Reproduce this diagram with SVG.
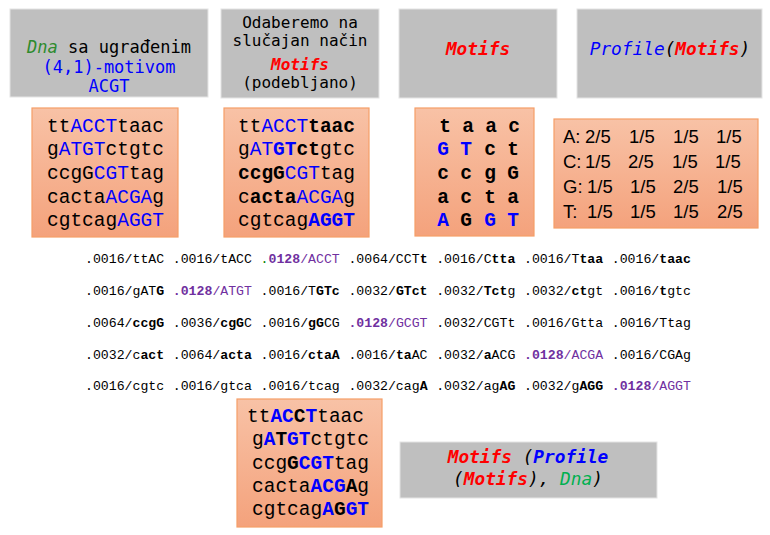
<svg xmlns="http://www.w3.org/2000/svg" width="770" height="535" viewBox="0 0 770 535">
<defs>
<linearGradient id="og" x1="0" y1="0" x2="0" y2="1">
<stop offset="0" stop-color="#f8c2a6"/>
<stop offset="1" stop-color="#f4a27c"/>
</linearGradient>
<style>
.gray{fill:#bfbfbf;stroke:#e4e4e4;stroke-width:1}
.org{fill:url(#og);stroke:#f59e68;stroke-width:1.2}
.cons{font-family:"DejaVu Sans Mono","Liberation Mono",monospace;fill:#000}
.mono{font-family:"Liberation Mono","Courier New",monospace;font-size:19.5px;fill:#000}
.sm{font-family:"Liberation Mono","Courier New",monospace;font-size:13.2px;fill:#000}
.pf{font-family:"Liberation Sans",Arial,sans-serif;font-size:18.5px;fill:#000}
.b{font-weight:bold}
.i{font-style:italic}
.bl{fill:#0000ff}
.rd{fill:#ff0000}
.gr{fill:#2e8b2e}
.gr2{fill:#00b050}
.pu{fill:#7030a0}
.k{fill:#000}
</style>
</defs>
<rect width="770" height="535" fill="#ffffff"/>

<g id="box-dna">
<rect class="gray" x="10" y="9" width="198" height="88"/>
<text class="cons" font-size="17" x="109" y="53" text-anchor="middle"><tspan class="i gr">Dna</tspan> sa ugrađenim</text>
<text class="cons bl" font-size="17" x="109" y="72.5" text-anchor="middle">(4,1)-motivom</text>
<text class="cons bl" font-size="17" x="109" y="92" text-anchor="middle">ACGT</text>
</g>

<g id="box-choose">
<rect class="gray" x="221" y="9" width="158" height="89"/>
<text class="cons" font-size="16" x="300" y="27.5" text-anchor="middle">Odaberemo na</text>
<text class="cons" font-size="16" x="300" y="46" text-anchor="middle">slučajan način</text>
<text class="cons b i rd" font-size="16" x="300" y="70" text-anchor="middle">Motifs</text>
<text class="cons" font-size="16" x="300" y="88" text-anchor="middle">(podebljano)</text>
</g>

<g id="box-motifs-title">
<rect class="gray" x="399" y="9" width="158" height="89"/>
<text class="cons b i rd" font-size="17.8" x="478" y="55" text-anchor="middle">Motifs</text>
</g>

<g id="box-profile-title">
<rect class="gray" x="577" y="9" width="185" height="89"/>
<text class="cons" font-size="17.8" x="670" y="55" text-anchor="middle"><tspan class="i bl">Profile</tspan><tspan class="i">(</tspan><tspan class="b i rd">Motifs</tspan><tspan class="i">)</tspan></text>
</g>

<g id="seq-dna">
<rect class="org" x="32" y="108" width="146" height="129"/>
<text class="mono" x="47" y="131.5">tt<tspan class="bl">ACCT</tspan>taac</text>
<text class="mono" x="47" y="155.2">g<tspan class="bl">ATGT</tspan>ctgtc</text>
<text class="mono" x="47" y="178.9">ccgG<tspan class="bl">CGT</tspan>tag</text>
<text class="mono" x="47" y="202.6">cacta<tspan class="bl">ACGA</tspan>g</text>
<text class="mono" x="47" y="226.3">cgtcag<tspan class="bl">AGGT</tspan></text>
</g>

<g id="seq-random">
<rect class="org" x="224" y="108" width="145" height="129"/>
<text class="mono" x="238" y="131.5">tt<tspan class="bl">ACCT</tspan><tspan class="b">taac</tspan></text>
<text class="mono" x="238" y="155.2">g<tspan class="bl">AT</tspan><tspan class="b bl">GT</tspan><tspan class="b">ct</tspan>gtc</text>
<text class="mono" x="238" y="178.9"><tspan class="b">ccgG</tspan><tspan class="bl">CGT</tspan>tag</text>
<text class="mono" x="238" y="202.6">c<tspan class="b">acta</tspan><tspan class="bl">ACGA</tspan>g</text>
<text class="mono" x="238" y="226.3">cgtcag<tspan class="b bl">AGGT</tspan></text>
</g>

<g id="motifs-matrix">
<rect class="org" x="415" y="108" width="119" height="128"/>
<text class="mono b" text-anchor="middle" y="131.5"><tspan x="445">t</tspan><tspan x="468">a</tspan><tspan x="491">a</tspan><tspan x="514">c</tspan></text>
<text class="mono b" text-anchor="middle" y="155.2"><tspan x="443" class="bl">G</tspan><tspan x="466" class="bl">T</tspan><tspan x="490">c</tspan><tspan x="513">t</tspan></text>
<text class="mono b" text-anchor="middle" y="178.9"><tspan x="443">c</tspan><tspan x="466">c</tspan><tspan x="490">g</tspan><tspan x="513">G</tspan></text>
<text class="mono b" text-anchor="middle" y="202.6"><tspan x="443">a</tspan><tspan x="466">c</tspan><tspan x="490">t</tspan><tspan x="513">a</tspan></text>
<text class="mono b" text-anchor="middle" y="226.3"><tspan x="443" class="bl">A</tspan><tspan x="466">G</tspan><tspan x="490" class="bl">G</tspan><tspan x="513" class="bl">T</tspan></text>
</g>

<g id="profile-matrix">
<rect class="org" x="554" y="119" width="204" height="109"/>
<text class="pf" y="143"><tspan x="563">A:</tspan><tspan x="585">2/5</tspan><tspan x="629">1/5</tspan><tspan x="673">1/5</tspan><tspan x="716">1/5</tspan></text>
<text class="pf" y="168"><tspan x="563">C:</tspan><tspan x="585">1/5</tspan><tspan x="628">2/5</tspan><tspan x="672">1/5</tspan><tspan x="715">1/5</tspan></text>
<text class="pf" y="193"><tspan x="563">G:</tspan><tspan x="587">1/5</tspan><tspan x="630">1/5</tspan><tspan x="673">2/5</tspan><tspan x="717">1/5</tspan></text>
<text class="pf" y="218"><tspan x="563">T:</tspan><tspan x="587">1/5</tspan><tspan x="630">1/5</tspan><tspan x="673">1/5</tspan><tspan x="717">2/5</tspan></text>
</g>

<g id="kmer-probabilities">
<text class="sm" x="85" y="263">.0016/ttAC</text>
<text class="sm" x="172.8" y="263">.0016/tACC</text>
<text class="sm pu" x="260.6" y="263"><tspan fill="#008000">.</tspan><tspan class="b">0128</tspan>/ACCT</text>
<text class="sm" x="348.4" y="263">.0064/CCT<tspan class="b">t</tspan></text>
<text class="sm" x="436.2" y="263">.0016/C<tspan class="b">tta</tspan></text>
<text class="sm" x="524" y="263">.0016/T<tspan class="b">taa</tspan></text>
<text class="sm" x="611.8" y="263">.0016/<tspan class="b">taac</tspan></text>

<text class="sm" x="85" y="295">.0016/gAT<tspan class="b">G</tspan></text>
<text class="sm pu" x="172.8" y="295"><tspan class="b">.0128</tspan>/ATGT</text>
<text class="sm" x="260.6" y="295">.0016/T<tspan class="b">GTc</tspan></text>
<text class="sm" x="348.4" y="295">.0032/<tspan class="b">GTct</tspan></text>
<text class="sm" x="436.2" y="295">.0032/<tspan class="b">Tct</tspan>g</text>
<text class="sm" x="524" y="295">.0032/<tspan class="b">ct</tspan>gt</text>
<text class="sm" x="611.8" y="295">.0016/<tspan class="b">t</tspan>gtc</text>

<text class="sm" x="85" y="327">.0064/<tspan class="b">ccgG</tspan></text>
<text class="sm" x="172.8" y="327">.0036/<tspan class="b">cgG</tspan>C</text>
<text class="sm" x="260.6" y="327">.0016/<tspan class="b">gG</tspan>CG</text>
<text class="sm pu" x="348.4" y="327"><tspan class="b">.0128</tspan>/GCGT</text>
<text class="sm" x="436.2" y="327">.0032/CGTt</text>
<text class="sm" x="524" y="327">.0016/Gtta</text>
<text class="sm" x="611.8" y="327">.0016/Ttag</text>

<text class="sm" x="85" y="358.5">.0032/c<tspan class="b">act</tspan></text>
<text class="sm" x="172.8" y="358.5">.0064/<tspan class="b">acta</tspan></text>
<text class="sm" x="260.6" y="358.5">.0016/<tspan class="b">ctaA</tspan></text>
<text class="sm" x="348.4" y="358.5">.0016/<tspan class="b">ta</tspan>AC</text>
<text class="sm" x="436.2" y="358.5">.0032/<tspan class="b">a</tspan>ACG</text>
<text class="sm pu" x="524" y="358.5"><tspan class="b">.0128</tspan>/ACGA</text>
<text class="sm" x="611.8" y="358.5">.0016/CGAg</text>

<text class="sm" x="85" y="390">.0016/cgtc</text>
<text class="sm" x="172.8" y="390">.0016/gtca</text>
<text class="sm" x="260.6" y="390">.0016/tcag</text>
<text class="sm" x="348.4" y="390">.0032/cag<tspan class="b">A</tspan></text>
<text class="sm" x="436.2" y="390">.0032/ag<tspan class="b">AG</tspan></text>
<text class="sm" x="524" y="390">.0032/g<tspan class="b">AGG</tspan></text>
<text class="sm pu" x="611.8" y="390"><tspan class="b">.0128</tspan>/AGGT</text>
</g>

<g id="seq-result">
<rect class="org" x="237" y="399" width="145" height="128"/>
<text class="mono" x="247" y="422">tt<tspan class="b bl">AC</tspan><tspan class="b">C</tspan><tspan class="b bl">T</tspan>taac</text>
<text class="mono" x="252" y="445.3">g<tspan class="b bl">A</tspan><tspan class="b">T</tspan><tspan class="b bl">GT</tspan>ctgtc</text>
<text class="mono" x="252" y="468.6">ccg<tspan class="b">G</tspan><tspan class="b bl">CGT</tspan>tag</text>
<text class="mono" x="252" y="491.9">cacta<tspan class="b bl">ACG</tspan><tspan class="b">A</tspan>g</text>
<text class="mono" x="252" y="515.2">cgtcag<tspan class="b bl">A</tspan><tspan class="b">G</tspan><tspan class="b bl">GT</tspan></text>
</g>

<g id="box-formula">
<rect class="gray" x="400" y="442" width="257" height="56"/>
<text class="cons" font-size="17.8" x="528" y="462.5" text-anchor="middle"><tspan class="b i rd">Motifs</tspan> <tspan class="i">(</tspan><tspan class="b i bl">Profile</tspan></text>
<text class="cons" font-size="17.8" x="528" y="485" text-anchor="middle"><tspan class="i">(</tspan><tspan class="b i rd">Motifs</tspan><tspan class="i">), </tspan><tspan class="i gr2">Dna</tspan><tspan class="i">)</tspan></text>
</g>
</svg>
